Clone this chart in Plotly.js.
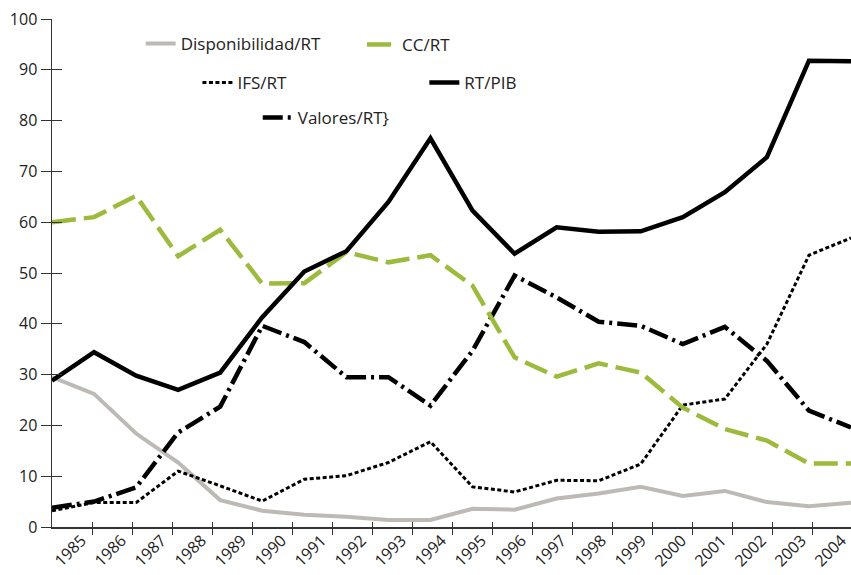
<!DOCTYPE html>
<html>
<head>
<meta charset="utf-8">
<script src="https://cdn.plot.ly/plotly-3.0.1.min.js"></script>
<style>html,body{margin:0;padding:0;background:#fff;}#chart{width:851px;height:575px;}</style>
</head>
<body>
<div id="chart"></div>
<script>
const years = ['1985','1986','1987','1988','1989','1990','1991','1992','1993','1994','1995','1996','1997','1998','1999','2000','2001','2002','2003','2004'];
const disponibilidadRT = [29.5,26.2,18.4,12.7,5.3,3.2,2.4,2.0,1.4,1.4,3.6,3.4,5.6,6.6,7.9,6.1,7.1,4.9,4.1,4.8];
const ccRT = [60.0,61.0,65.2,53.3,58.5,47.9,48.0,54.1,52.1,53.5,47.5,33.4,29.6,32.2,30.4,23.5,19.3,17.0,12.5,12.5];
const ifsRT = [3.2,4.8,4.8,11.0,8.1,5.1,9.4,10.1,12.7,16.8,7.9,6.9,9.2,9.1,12.4,24.0,25.2,36.0,53.5,56.9];
const rtPIB = [28.8,34.4,29.8,27.0,30.4,41.3,50.3,54.3,64.0,76.5,62.3,53.8,59.0,58.1,58.2,61.0,65.9,72.8,91.8,91.7];
const valoresRT = [3.8,5.0,7.8,18.6,23.7,39.6,36.4,29.5,29.5,23.9,34.7,49.5,45.2,40.4,39.6,36.0,39.4,32.7,22.9,19.6];
const seriesNames = ['Disponibilidad/RT','CC/RT','IFS/RT','RT/PIB','Valores/RT}'];

const idx = years.map((_, i) => i);
const FONT = 'Open Sans, sans-serif';

function tr(y, name, legend, line) {
  return {x: idx, y: y, name: name, legend: legend, type: 'scatter', mode: 'lines',
          line: Object.assign({shape: 'linear'}, line), hoverinfo: 'skip'};
}
function helper(xa, ya) {
  return {x: [null], y: [null], xaxis: xa, yaxis: ya, type: 'scatter', mode: 'lines',
          showlegend: false, hoverinfo: 'skip', line: {width: 0}};
}

const data = [
  tr(disponibilidadRT, seriesNames[0], 'legend', {color: '#bdbab6', width: 4}),
  tr(ifsRT, seriesNames[2], 'legend3', {color: '#000000', width: 3, dash: '4px,2.5px'}),
  tr(valoresRT, seriesNames[4], 'legend5', {color: '#000000', width: 4.5, dash: '20px,5px,3px,5px'}),
  tr(ccRT, seriesNames[1], 'legend2', {color: '#9cbb3c', width: 4.5, dash: '24px,8px'}),
  tr(rtPIB, seriesNames[3], 'legend4', {color: '#000000', width: 4.5}),
  helper('x2', 'y'), helper('x3', 'y'), helper('x4', 'y'), helper('x', 'y2')
];

const nCat = years.length;
const span = 799 / 40;
const tickPos = idx.slice(1);
const labelPos = idx.map(i => i + 0.74);

function leg(x, y) {
  return {x: x, y: y, xanchor: 'left', yanchor: 'middle', bgcolor: 'rgba(0,0,0,0)',
          font: {family: FONT, size: 17, color: '#222'}, borderwidth: 0};
}

const layout = {
  width: 851, height: 575,
  margin: {l: 52, r: 0, t: 19, b: 48},
  paper_bgcolor: '#ffffff', plot_bgcolor: '#ffffff',
  font: {family: FONT, size: 15, color: '#222'},
  showlegend: true,
  xaxis: {range: [0, nCat - 1], showgrid: false, zeroline: false, showticklabels: false,
          ticks: '', showline: true, linecolor: '#333', linewidth: 1.5, fixedrange: true},
  xaxis2: {overlaying: 'x', anchor: 'y', range: [0, span], tickmode: 'array', tickvals: tickPos,
           ticks: 'outside', ticklen: 7, tickcolor: '#333', tickwidth: 1, showticklabels: false,
           showgrid: false, zeroline: false, showline: false},
  xaxis3: {overlaying: 'x', anchor: 'y', range: [0, span], tickmode: 'array', tickvals: tickPos,
           ticks: 'inside', ticklen: 5, tickcolor: '#333', tickwidth: 1, showticklabels: false,
           showgrid: false, zeroline: false, showline: false},
  xaxis4: {overlaying: 'x', anchor: 'y', range: [0, span], tickmode: 'array', tickvals: labelPos,
           ticktext: years, ticks: '', tickangle: -45, showgrid: false, zeroline: false, showline: false,
           tickfont: {family: FONT, size: 16, color: '#222'}},
  yaxis: {range: [0, 100], dtick: 10, tick0: 0, ticks: 'outside', ticklen: 10, tickcolor: '#333',
          showgrid: false, zeroline: false, showline: true, linecolor: '#333', linewidth: 1.5,
          tickfont: {family: FONT, size: 16, color: '#222'}, fixedrange: true},
  yaxis2: {overlaying: 'y', anchor: 'x', range: [0, 100], dtick: 10, tick0: 0, ticks: 'inside', ticklen: 10,
           tickcolor: '#333', showticklabels: false, showgrid: false, zeroline: false, showline: false},
  legend: leg(0.111, 0.951),
  legend2: leg(0.388, 0.949),
  legend3: leg(0.182, 0.874),
  legend4: leg(0.466, 0.874),
  legend5: leg(0.2575, 0.805)
};

Plotly.newPlot('chart', data, layout, {staticPlot: true, displayModeBar: false});
</script>
</body>
</html>
